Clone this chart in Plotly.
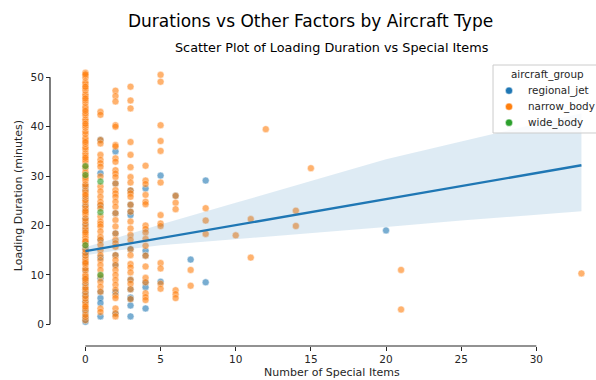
import plotly.graph_objects as go

# Loading duration (minutes) for each number of special items, per aircraft group
regional_jet = {
    0: [0.5, 0.9, 1.3, 2.5, 3.1, 4.6, 5.8, 6.3, 7.0, 8.0, 9.0, 9.3, 11.0, 12.5,
        13.8, 14.6, 15.3, 16.7, 19.1, 20.1, 21.3, 23.1, 24.1, 25.5, 27.2, 28.0],
    1: [37.3, 30.6, 24.0, 17.1, 13.5, 9.3, 6.6, 5.3, 4.3, 1.6],
    2: [35.0, 28.5, 22.5, 18.4, 14.0, 12.0, 6.5, 2.2],
    3: [27.1, 24.2, 22.8, 22.1, 15.2, 9.0, 7.1, 5.4, 5.1, 3.8, 1.6],
    4: [27.5, 14.9, 13.9, 8.5, 7.5, 3.2],
    5: [30.1, 8.6],
    6: [26.0],
    7: [13.1],
    8: [29.1, 8.5],
    20: [19.0],
}

narrow_body = {
    0: [0.8, 1.5, 1.9, 2.8, 3.3, 4.0, 4.5, 5.2, 5.7, 6.5, 7.1, 7.4, 8.3, 8.8,
        9.6, 10.0, 10.9, 11.3, 12.1, 12.7, 13.2, 13.9, 14.4, 15.1, 15.9, 16.5,
        17.1, 17.6, 18.2, 19.0, 19.5, 20.3, 20.9, 21.4, 22.2, 22.6, 23.4, 23.9,
        24.7, 25.1, 25.8, 26.6, 27.0, 27.9, 28.3, 29.1, 29.5, 30.4, 30.8, 31.6,
        32.1, 32.9, 33.3, 34.1, 34.6, 35.4, 35.8, 36.5, 37.3, 37.7, 38.5, 39.0,
        39.8, 40.2, 41.1, 41.5, 42.3, 42.7, 43.6, 44.0, 44.8, 45.3, 46.1, 46.5,
        47.3, 47.8, 48.6, 49.0, 49.9, 50.3, 50.9,
        3.6, 9.2, 12.4, 16.8, 18.6, 22.9, 26.2, 29.8, 33.7, 36.9, 40.6, 43.2,
        45.7, 48.1, 50.6],
    1: [43.0, 42.4, 37.3, 36.6, 34.3, 33.3, 32.6, 31.9, 29.9, 27.9, 26.9, 25.8,
        24.8, 24.2, 23.5, 21.8, 20.8, 20.3, 19.8, 18.8, 17.7, 17.1, 16.1, 15.0,
        14.0, 13.0, 12.0, 11.0, 9.8, 8.6, 7.6, 6.6, 3.2, 2.5],
    2: [47.3, 46.2, 45.1, 40.3, 40.0, 36.3, 36.0, 33.6, 32.9, 31.2, 30.5, 29.8,
        28.5, 27.2, 26.5, 25.8, 24.8, 23.8, 22.5, 21.1, 19.8, 18.4, 17.1, 16.4,
        15.7, 14.0, 13.0, 12.0, 11.0, 10.0, 9.0, 8.0, 7.0, 5.9, 5.3, 3.2, 2.2,
        1.6],
    3: [48.1, 45.3, 43.7, 36.9, 34.3, 31.8, 29.8, 28.7, 27.1, 26.5, 25.8, 24.2,
        22.8, 20.8, 19.4, 18.1, 17.1, 15.2, 14.0, 12.2, 11.5, 10.5, 9.0, 8.2,
        7.1, 5.1],
    4: [32.1, 29.1, 28.4, 26.2, 24.8, 24.3, 20.0, 19.3, 18.6, 17.3, 15.9, 13.9,
        11.7, 9.4, 8.5, 6.3, 5.5, 4.9],
    5: [50.5, 49.1, 40.3, 37.1, 35.1, 28.7, 22.1, 20.4, 19.9, 12.4, 11.3, 8.2,
        7.2],
    6: [26.0, 24.6, 23.3, 6.9, 6.1, 5.3],
    7: [11.0, 7.8],
    8: [23.5, 21.0, 18.3],
    10: [18.0],
    11: [21.3, 13.5],
    12: [39.5],
    14: [23.0, 19.9],
    15: [31.6],
    21: [11.0, 3.0],
    33: [10.3],
}

wide_body = {
    0: [32.0, 30.2, 16.0],
    1: [28.9, 22.7, 10.0],
}

group_names = ["regional_jet", "narrow_body", "wide_body"]
group_data = [regional_jet, narrow_body, wide_body]
group_colors = ["#1f77b4", "#ff7f0e", "#2ca02c"]

# Linear fit of duration on special items with its confidence band
fit_items = [0, 2, 5, 10, 15, 20, 25, 30, 33]
fit_minutes = [14.8, 15.85, 17.4, 20.1, 22.7, 25.3, 28.0, 30.6, 32.2]
ci_low = [14.0, 14.9, 16.0, 17.3, 18.5, 19.7, 21.0, 22.2, 22.9]
ci_high = [15.6, 17.5, 20.2, 24.6, 29.0, 33.4, 37.0, 40.6, 42.7]

x_ticks = [0, 5, 10, 15, 20, 25, 30]
y_ticks = [0, 10, 20, 30, 40, 50]

INK = "#262626"
FONT = "DejaVu Sans"
TICK_SIZE = 10.5
LABEL_SIZE = 11
LEGEND_SIZE = 10.4

fig = go.Figure()

for name, data, color in zip(group_names, group_data, group_colors):
    xs, ys = [], []
    for items, minutes in data.items():
        xs.extend([items] * len(minutes))
        ys.extend(minutes)
    fig.add_trace(go.Scatter(
        x=xs, y=ys, mode="markers", name=name, showlegend=False,
        marker=dict(color=color, size=7, opacity=0.6,
                    line=dict(color="white", width=0.5)),
        hoverinfo="x+y",
    ))

# Confidence band and fitted line drawn above the points
fig.add_trace(go.Scatter(
    x=fit_items + fit_items[::-1], y=ci_high + ci_low[::-1],
    fill="toself", fillcolor="rgba(31,119,180,0.15)",
    line=dict(width=0), mode="lines", showlegend=False, hoverinfo="skip",
))
fig.add_trace(go.Scatter(
    x=fit_items, y=fit_minutes, mode="lines", showlegend=False,
    line=dict(color="#1f77b4", width=2.4),
))

# Trimmed, offset spines
shapes = [
    dict(type="line", xref="x", yref="paper", x0=x_ticks[0], x1=x_ticks[-1],
         y0=0, y1=0, line=dict(color=INK, width=1.2)),
    dict(type="line", xref="paper", yref="y", x0=0, x1=0,
         y0=y_ticks[0], y1=y_ticks[-1], line=dict(color=INK, width=1.2)),
]

annotations = [
    dict(text="Durations vs Other Factors by Aircraft Type",
         xref="paper", yref="paper", x=0.4762, y=1.136,
         xanchor="center", yanchor="middle", showarrow=False,
         font=dict(size=17, color="black")),
    dict(text="Scatter Plot of Loading Duration vs Special Items",
         xref="paper", yref="paper", x=0.5165, y=1.042,
         xanchor="center", yanchor="middle", showarrow=False,
         font=dict(size=12.8, color="black")),
    dict(text="Number of Special Items",
         xref="paper", yref="paper", x=0.5165, y=-0.0944,
         xanchor="center", yanchor="middle", showarrow=False,
         font=dict(size=LABEL_SIZE, color=INK)),
    dict(text="Loading Duration (minutes)", textangle=-90,
         xref="paper", yref="paper", x=-0.0586, y=0.524,
         xanchor="center", yanchor="middle", showarrow=False,
         font=dict(size=LABEL_SIZE, color=INK)),
]

# Legend box in the upper right corner
LEG_X0, LEG_X1, LEG_Y0, LEG_Y1 = 0.8114, 1.05, 0.7448, 0.9825
shapes.append(dict(
    type="rect", xref="paper", yref="paper",
    x0=LEG_X0, x1=LEG_X1, y0=LEG_Y0, y1=LEG_Y1, layer="above",
    fillcolor="rgba(255,255,255,0.8)", line=dict(color="#cccccc", width=1),
))
annotations.append(dict(
    text="aircraft_group", xref="paper", yref="paper", x=0.9103, y=0.9486,
    xanchor="center", yanchor="middle", showarrow=False,
    font=dict(size=LEGEND_SIZE, color=INK),
))
entry_rows = [0.8927, 0.8367, 0.7808]
for name, color, row in zip(group_names, group_colors, entry_rows):
    shapes.append(dict(
        type="circle", xref="paper", yref="paper", layer="above",
        xsizemode="pixel", ysizemode="pixel", xanchor=0.8407, yanchor=row,
        x0=-3.6, x1=3.6, y0=-3.6, y1=3.6,
        fillcolor=color, line=dict(color="white", width=0.5),
    ))
    annotations.append(dict(
        text=name, xref="paper", yref="paper", x=0.8718, y=row,
        xanchor="left", yanchor="middle", showarrow=False,
        font=dict(size=LEGEND_SIZE, color=INK),
    ))

fig.update_layout(
    width=596, height=380,
    margin=dict(l=50, r=0, t=60, b=34, autoexpand=False),
    paper_bgcolor="white", plot_bgcolor="white",
    font=dict(family=FONT, size=TICK_SIZE, color=INK),
    showlegend=False,
    xaxis=dict(
        domain=[0.0203, 1], range=[-1.62, 33.97],
        anchor="free", position=0,
        tickvals=x_ticks, ticks="outside", ticklen=3.5, tickwidth=1,
        tickcolor=INK, showline=False, showgrid=False, zeroline=False,
        tickfont=dict(size=TICK_SIZE, color=INK),
    ),
    yaxis=dict(
        domain=[0.0455, 1], range=[-1.76, 53.5],
        anchor="free", position=0,
        tickvals=y_ticks, ticks="outside", ticklen=4, tickwidth=1,
        tickcolor=INK, showline=False, showgrid=False, zeroline=False,
        tickfont=dict(size=TICK_SIZE, color=INK),
    ),
    shapes=shapes,
    annotations=annotations,
)

fig.write_html("out.html")
